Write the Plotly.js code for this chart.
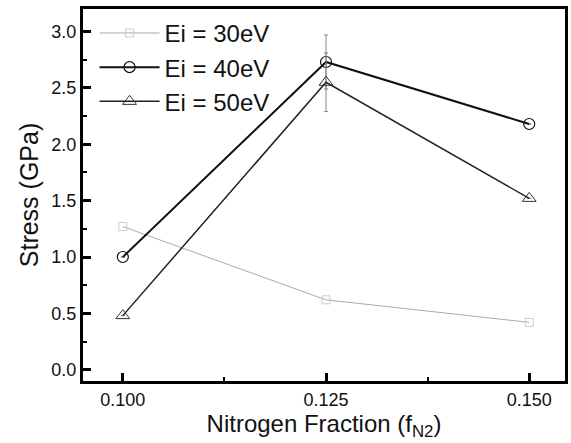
<!DOCTYPE html>
<html><head><meta charset="utf-8">
<script src="https://cdn.plot.ly/plotly-3.0.1.min.js"></script>
<style>body{margin:0;background:#fff}#plot{width:571px;height:443px}</style>
</head><body><div id="plot"></div>
<script>
const fractions = [0.100, 0.125, 0.150];
const stress30 = [1.27, 0.62, 0.42];
const stress40 = [1.00, 2.73, 2.18];
const stress50 = [0.48, 2.55, 1.52];
const err40 = [0, 0.24, 0];
const err50 = [0, 0.26, 0];
const names = ['Ei = 30eV', 'Ei = 40eV', 'Ei = 50eV'];
const xTicks = [0.100, 0.125, 0.150];
const xTickText = ['0.100', '0.125', '0.150'];
const yTicks = [0.0, 0.5, 1.0, 1.5, 2.0, 2.5, 3.0];
const yTickText = ['0.0', '0.5', '1.0', '1.5', '2.0', '2.5', '3.0'];

const traces = [
  {x: fractions, y: stress30, name: names[0], mode: 'lines+markers',
   line: {color: '#aaaaaa', width: 1}, marker: {symbol: 'square-open', size: 8, color: '#cccccc', line: {width: 1}}},
  {x: fractions, y: stress40, name: names[1], mode: 'lines+markers',
   error_y: {type: 'data', array: err40, color: '#888', thickness: 1, width: 2},
   line: {color: '#111', width: 2}, marker: {symbol: 'circle-open', size: 11, color: '#111', line: {width: 1.2}}},
  {x: fractions, y: stress50, name: names[2], mode: 'lines+markers',
   error_y: {type: 'data', array: err50, color: '#888', thickness: 1, width: 2},
   line: {color: '#222', width: 1.5}, marker: {symbol: 'triangle-up-open', size: 12, color: '#333', line: {width: 1}}}
];

const layout = {
  width: 571, height: 443,
  margin: {l: 83, r: 6, t: 9, b: 62},
  paper_bgcolor: '#fff', plot_bgcolor: '#fff',
  font: {family: 'Liberation Sans, Arial, sans-serif', color: '#111'},
  showlegend: true,
  legend: {x: 0.024, y: 0.995, xanchor: 'left', yanchor: 'top', bgcolor: 'rgba(0,0,0,0)',
           font: {size: 24}, itemwidth: 60, tracegroupgap: 0},
  xaxis: {range: [0.0951, 0.1544], tickvals: xTicks, ticktext: xTickText,
          ticks: 'inside', ticklen: 8, tickwidth: 3, tickcolor: '#000',
          minor: {dtick: 0.0125, ticks: 'inside', ticklen: 4, tickwidth: 2, tickcolor: '#000'},
          showline: true, linewidth: 3, linecolor: '#000', mirror: true,
          showgrid: false, zeroline: false, tickfont: {size: 18},
          title: {text: 'Nitrogen Fraction (f<sub>N2</sub>)', font: {size: 24}, standoff: 4}},
  yaxis: {range: [-0.1, 3.2], tickvals: yTicks, ticktext: yTickText,
          ticks: 'inside', ticklen: 8, tickwidth: 3, tickcolor: '#000',
          minor: {dtick: 0.25, tick0: 0, ticks: 'inside', ticklen: 4, tickwidth: 2, tickcolor: '#000'},
          showline: true, linewidth: 3, linecolor: '#000', mirror: true,
          showgrid: false, zeroline: false, tickfont: {size: 18},
          title: {text: 'Stress (GPa)', font: {size: 25}, standoff: 6}}
};
Plotly.newPlot('plot', traces, layout, {displayModeBar: false});
</script></body></html>
